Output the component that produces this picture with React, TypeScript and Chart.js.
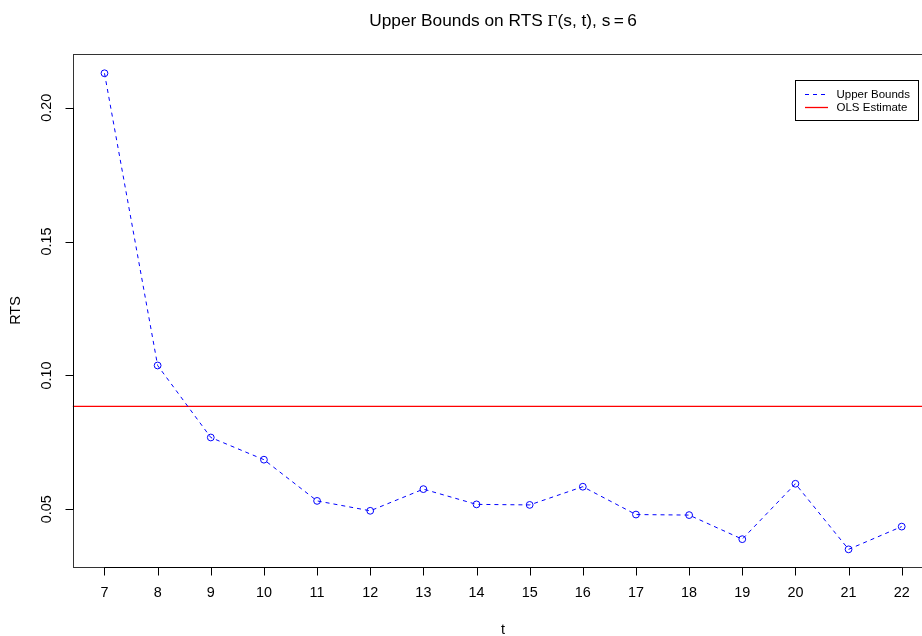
import { useEffect, useRef } from "react";
import { Chart, registerables } from "chart.js";

Chart.register(...registerables);

// ---- data ----
const tValues = [7, 8, 9, 10, 11, 12, 13, 14, 15, 16, 17, 18, 19, 20, 21, 22];
const upperBounds = [
  0.2129, 0.1037, 0.0768, 0.0685, 0.0531, 0.0494, 0.0575, 0.0518,
  0.0516, 0.0584, 0.048, 0.0478, 0.0388, 0.0595, 0.035, 0.0435,
];
const olsEstimate = 0.0884;
const xTicks = [7, 8, 9, 10, 11, 12, 13, 14, 15, 16, 17, 18, 19, 20, 21, 22];
const yTicks = [0.05, 0.1, 0.15, 0.2];
const yTickLabels = ["0.05", "0.10", "0.15", "0.20"];
const legendLabels = ["Upper Bounds", "OLS Estimate"];

const X_MIN = 6.4;
const X_MAX = 22.6;
const Y_MIN = 0.0284;
const Y_MAX = 0.2201;

const SANS = '"Liberation Sans", Arial, Helvetica, sans-serif';
const SERIF = '"Liberation Serif", "Times New Roman", serif';

const rPlotPlugin = {
  id: "rplot",
  afterDraw(chart: any) {
    const { ctx, chartArea: a } = chart;
    const xs = chart.scales.x;
    const ys = chart.scales.y;
    ctx.save();
    ctx.lineWidth = 1;
    // box
    const L = Math.round(a.left) + 0.5;
    const R = Math.round(a.right) + 0.5;
    const T = Math.round(a.top) + 0.5;
    const B = Math.round(a.bottom) + 0.5;
    ctx.strokeStyle = "#333";
    ctx.strokeRect(L, T, R - L, B - T);
    ctx.strokeStyle = "#000";

    // x axis
    const x0 = xs.getPixelForValue(xTicks[0]);
    const x1 = xs.getPixelForValue(xTicks[xTicks.length - 1]);
    ctx.beginPath();
    ctx.moveTo(x0, B);
    ctx.lineTo(x1, B);
    xTicks.forEach((t) => {
      const px = Math.round(xs.getPixelForValue(t)) + 0.5;
      ctx.moveTo(px, B);
      ctx.lineTo(px, B + 8);
    });
    ctx.stroke();
    ctx.fillStyle = "#000";
    ctx.font = `14.4px ${SANS}`;
    ctx.textAlign = "center";
    ctx.textBaseline = "middle";
    xTicks.forEach((t) => {
      ctx.fillText(String(t), xs.getPixelForValue(t), 593);
    });
    ctx.fillText("t", (a.left + a.right) / 2, 630);

    // y axis
    const y0 = ys.getPixelForValue(yTicks[0]);
    const y1 = ys.getPixelForValue(yTicks[yTicks.length - 1]);
    ctx.beginPath();
    ctx.moveTo(L, y0);
    ctx.lineTo(L, y1);
    yTicks.forEach((v) => {
      const py = Math.round(ys.getPixelForValue(v)) + 0.5;
      ctx.moveTo(L, py);
      ctx.lineTo(L - 8, py);
    });
    ctx.stroke();
    yTicks.forEach((v, i) => {
      ctx.save();
      ctx.translate(47, ys.getPixelForValue(v));
      ctx.rotate(-Math.PI / 2);
      ctx.fillText(yTickLabels[i], 0, 0);
      ctx.restore();
    });
    ctx.save();
    ctx.translate(16.5, (a.top + a.bottom) / 2);
    ctx.rotate(-Math.PI / 2);
    ctx.fillText("RTS", 0, 0);
    ctx.restore();

    // title (plotmath-like)
    const parts: [string, string][] = [
      ["Upper Bounds on RTS ", `17.3px ${SANS}`],
      ["\u0393", `17.3px ${SERIF}`],
      ["(s, t), s\u2009=\u20096", `17.3px ${SANS}`],
    ];
    let total = 0;
    parts.forEach(([s, f]) => {
      ctx.font = f;
      total += ctx.measureText(s).width;
    });
    let tx = (a.left + a.right) / 2 - total / 2;
    ctx.textAlign = "left";
    ctx.textBaseline = "alphabetic";
    parts.forEach(([s, f]) => {
      ctx.font = f;
      ctx.fillText(s, tx, 26);
      tx += ctx.measureText(s).width;
    });

    // legend
    ctx.lineWidth = 1;
    ctx.strokeStyle = "#000";
    ctx.setLineDash([]);
    ctx.strokeRect(795.5, 80.5, 123, 40);
    ctx.strokeStyle = "#0000FF";
    ctx.setLineDash([4, 4]);
    ctx.beginPath();
    ctx.moveTo(805, 94.5);
    ctx.lineTo(828, 94.5);
    ctx.stroke();
    ctx.setLineDash([]);
    ctx.lineWidth = 1.3;
    ctx.strokeStyle = "#FF0000";
    ctx.beginPath();
    ctx.moveTo(805, 107.5);
    ctx.lineTo(828, 107.5);
    ctx.stroke();
    ctx.fillStyle = "#000";
    ctx.font = `11.5px ${SANS}`;
    ctx.textBaseline = "middle";
    ctx.fillText(legendLabels[0], 836.5, 94.5);
    ctx.fillText(legendLabels[1], 836.5, 107.5);
    ctx.restore();
  },
};

export default function App() {
  const ref = useRef<HTMLCanvasElement>(null);

  useEffect(() => {
    if (!ref.current) return;
    const chart = new Chart(ref.current, {
      type: "line",
      data: {
        datasets: [
          {
            label: legendLabels[0],
            data: tValues.map((t, i) => ({ x: t, y: upperBounds[i] })),
            borderColor: "#0000FF",
            borderWidth: 1,
            borderDash: [4, 4],
            pointStyle: "circle",
            pointRadius: 3.4,
            pointBorderWidth: 1,
            pointBorderColor: "#0000FF",
            pointBackgroundColor: "rgba(0,0,0,0)",
            tension: 0,
            fill: false,
          },
          {
            label: legendLabels[1],
            data: [
              { x: X_MIN, y: olsEstimate },
              { x: X_MAX, y: olsEstimate },
            ],
            borderColor: "#FF0000",
            borderWidth: 1.2,
            pointRadius: 0,
            tension: 0,
            fill: false,
          },
        ],
      },
      options: {
        responsive: false,
        animation: false,
        layout: {
          padding: { left: 72.6, right: 940 - 933.6, top: 54, bottom: 69 },
        },
        plugins: {
          legend: { display: false },
          title: { display: false },
          tooltip: { enabled: false },
        },
        scales: {
          x: { type: "linear", min: X_MIN, max: X_MAX, display: false },
          y: { type: "linear", min: Y_MIN, max: Y_MAX, display: false },
        },
      },
      plugins: [rPlotPlugin],
    });
    return () => chart.destroy();
  }, []);

  return (
    <div
      style={{
        position: "fixed",
        left: 0,
        top: 0,
        width: 922,
        height: 636,
        overflow: "hidden",
        background: "#fff",
      }}
    >
      <canvas ref={ref} width={940} height={636} style={{ display: "block" }} />
    </div>
  );
}
